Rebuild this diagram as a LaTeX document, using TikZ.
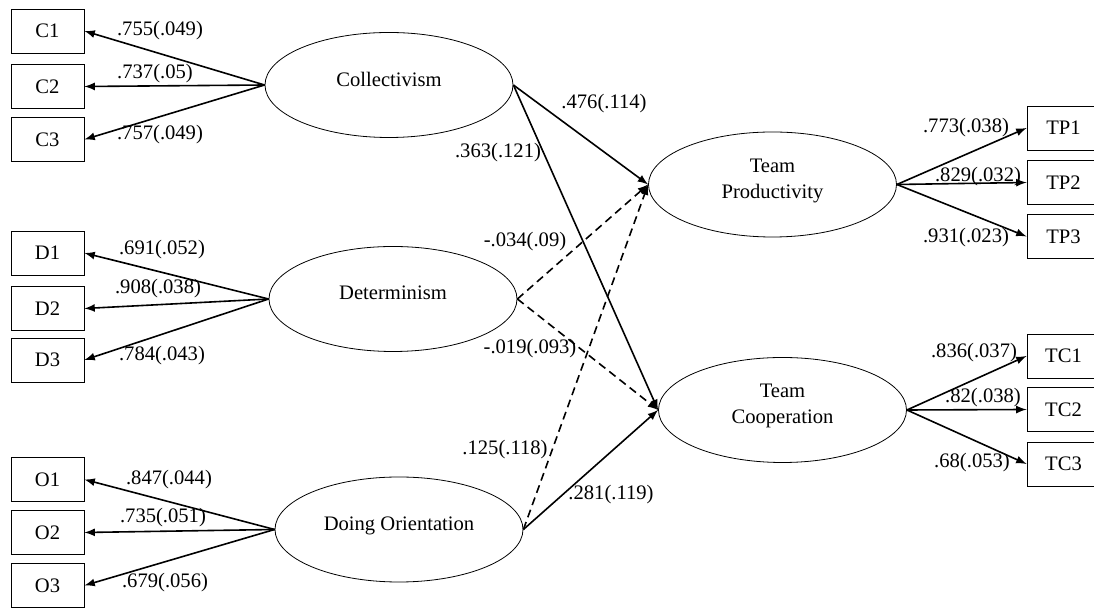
\documentclass[tikz,border=0pt]{standalone}
\usepackage{fontspec}
\setmainfont{Liberation Serif}
\usetikzlibrary{arrows,shapes}

\begin{document}
\begin{tikzpicture}[x=0.5pt,y=-0.5pt,
  font=\fontsize{10.3pt}{13pt}\selectfont,
  obs/.style={draw,rectangle,minimum width=36.5pt,minimum height=22pt,inner sep=0pt},
  lat/.style={draw,ellipse,minimum width=124pt,minimum height=52.5pt,inner sep=0pt,align=center,text depth=6pt},
  loading/.style={draw,line width=0.8pt,-latex},
  effect/.style={draw,line width=0.8pt,-latex},
  weakeffect/.style={effect,dash pattern=on 4pt off 2.5pt},
  coef/.style={inner sep=1pt}]
\useasboundingbox (0,0) rectangle (1094,608);
\clip (0,0) rectangle (1094,608);

\node[obs] (c1) at (47.5,31) {C1};
\node[obs] (c2) at (47.5,86.5) {C2};
\node[obs] (c3) at (47.5,139.5) {C3};
\node[obs] (d1) at (47.5,253) {D1};
\node[obs] (d2) at (47.5,308.5) {D2};
\node[obs] (d3) at (47.5,360) {D3};
\node[obs] (o1) at (47.5,479.5) {O1};
\node[obs] (o2) at (47.5,532.5) {O2};
\node[obs] (o3) at (47.5,585.5) {O3};

\node[obs] (tp1) at (1063.5,128) {TP1};
\node[obs] (tp2) at (1063.5,182.5) {TP2};
\node[obs] (tp3) at (1063.5,236.5) {TP3};
\node[obs] (tc1) at (1063.5,356) {TC1};
\node[obs] (tc2) at (1063.5,409.5) {TC2};
\node[obs] (tc3) at (1063.5,464) {TC3};

\node[lat] (col) at (389,85) {Collectivism};
\node[lat] (det) at (393,299) {Determinism};
\node[lat] (doo) at (399,529.5) {Doing Orientation};
\node[lat] (tp) at (772.5,184.5) {Team\\Productivity};
\node[lat] (tc) at (782.5,410) {Team\\Cooperation};

\draw[loading] (col.west) -- (c1.east);
\draw[loading] (col.west) -- (c2.east);
\draw[loading] (col.west) -- (c3.east);
\draw[loading] (det.west) -- (d1.east);
\draw[loading] (det.west) -- (d2.east);
\draw[loading] (det.west) -- (d3.east);
\draw[loading] (doo.west) -- (o1.east);
\draw[loading] (doo.west) -- (o2.east);
\draw[loading] (doo.west) -- (o3.east);
\draw[loading] (tp.east) -- (tp1.west);
\draw[loading] (tp.east) -- (tp2.west);
\draw[loading] (tp.east) -- (tp3.west);
\draw[loading] (tc.east) -- (tc1.west);
\draw[loading] (tc.east) -- (tc2.west);
\draw[loading] (tc.east) -- (tc3.west);

\draw[effect] (col.east) -- (tp.west);
\draw[effect] (col.east) -- (tc.west);
\draw[weakeffect] (det.east) -- (tp.west);
\draw[weakeffect] (det.east) -- (tc.west);
\draw[weakeffect] (doo.east) -- (tp.west);
\draw[effect] (doo.east) -- (tc.west);

\node[coef] (lc1) at (160,31) {.755(.049)};
\node[coef] (lc2) at (155,74) {.737(.05)};
\node[coef] (lc3) at (160,135) {.757(.049)};
\node[coef] (ld1) at (162,250) {.691(.052)};
\node[coef] (ld2) at (158,289) {.908(.038)};
\node[coef] (ld3) at (162,356) {.784(.043)};
\node[coef] (lo1) at (169,480) {.847(.044)};
\node[coef] (lo2) at (163,518) {.735(.051)};
\node[coef] (lo3) at (165,583) {.679(.056)};
\node[coef] (ltp1) at (966,128) {.773(.038)};
\node[coef] (ltp2) at (978,177) {.829(.032)};
\node[coef] (ltp3) at (966,238) {.931(.023)};
\node[coef] (ltc1) at (974,353) {.836(.037)};
\node[coef] (ltc2) at (983,398) {.82(.038)};
\node[coef] (ltc3) at (972,463) {.68(.053)};

\node[coef] (lcoltp) at (604,104) {.476(.114)};
\node[coef] (lcoltc) at (498,153) {.363(.121)};
\node[coef] (ldettp) at (525,242) {-.034(.09)};
\node[coef] (ldettc) at (530,349) {-.019(.093)};
\node[coef] (ldootp) at (505,450) {.125(.118)};
\node[coef] (ldootc) at (611,495) {.281(.119)};
\end{tikzpicture}
\end{document}
